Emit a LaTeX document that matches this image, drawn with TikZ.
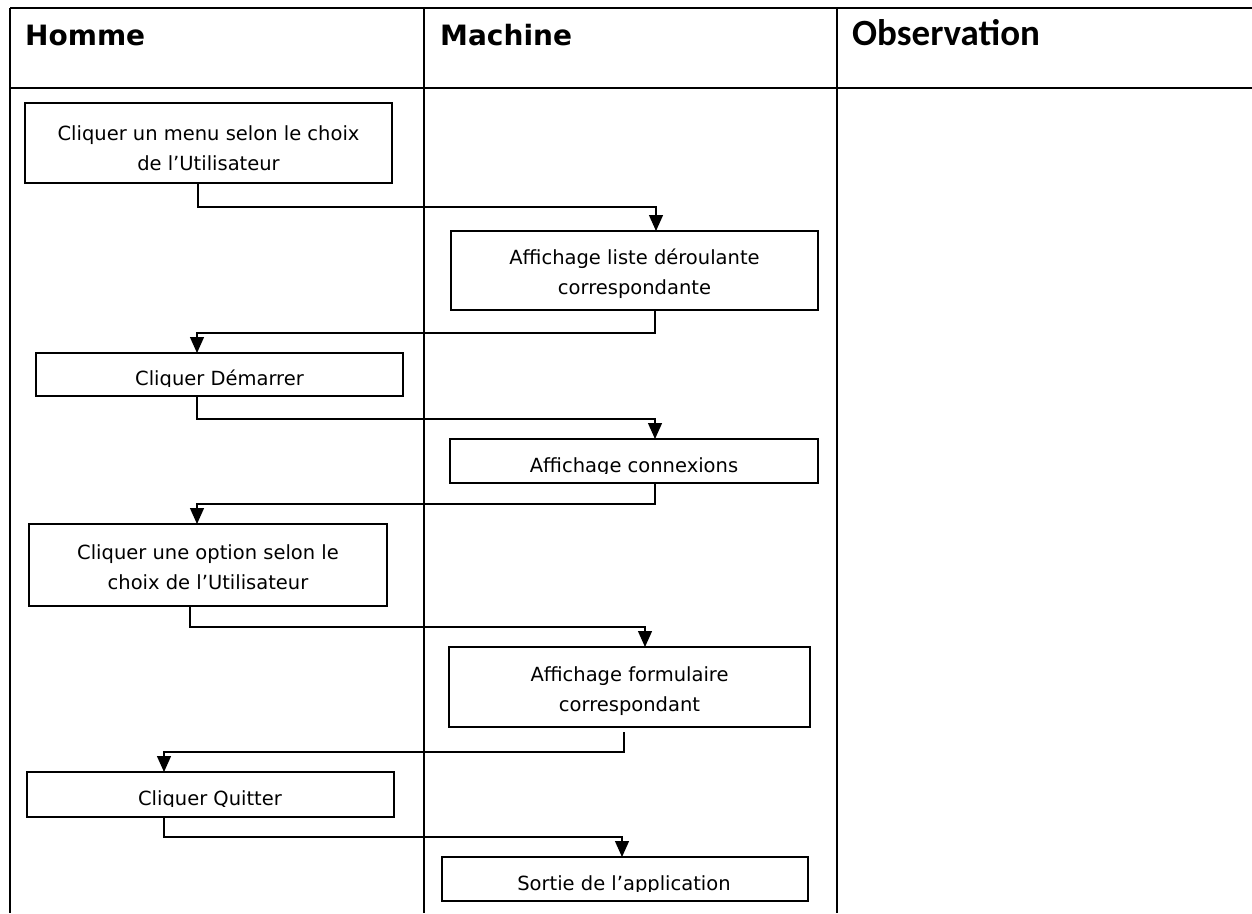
\documentclass[tikz,border=0pt]{standalone}
\usepackage{fontspec}
\setmainfont{DejaVu Sans}
\newfontfamily\obsfont{Carlito}
\usetikzlibrary{arrows.meta}
\begin{document}
\begin{tikzpicture}[x=1pt,y=-1pt,
  gridline/.style={line width=2.4pt},
  flowbox/.style={draw, line width=1.3pt, anchor=north west, inner sep=0pt, outer sep=0pt},
  lbl/.style={font=\fontsize{19.5}{30}\selectfont, align=center, inner sep=0pt, anchor=base},
  hdr/.style={font=\fontsize{28}{30}\selectfont\bfseries, inner sep=0pt, anchor=base west},
  arr/.style={line width=1.3pt, -{Triangle[width=14pt,length=16pt]}}]
\useasboundingbox (0,0) rectangle (1252,913);
\fill[white] (0,0) rectangle (1252,913);

% table
\draw[gridline] (10,8) -- (1252,8);
\draw[gridline] (10,88) -- (1252,88);
\draw[gridline] (10,8) -- (10,913);
\draw[gridline] (424,8) -- (424,913);
\draw[gridline] (837,8) -- (837,913);

\node[hdr] (hh) at (25,45) {Homme};
\node[hdr] (hm) at (440,45) {Machine};
\node[hdr, font=\fontsize{37}{39}\selectfont\obsfont\bfseries] (ho) at (852,45) {Observation};

% boxes
\node[flowbox, minimum width=367pt, minimum height=80pt] (b1) at (25,103) {};
\node[flowbox, minimum width=367pt, minimum height=79pt] (b2) at (451,231) {};
\node[flowbox, minimum width=367pt, minimum height=43pt] (b3) at (36,353) {};
\node[flowbox, minimum width=368pt, minimum height=44pt] (b4) at (450,439) {};
\node[flowbox, minimum width=358pt, minimum height=82pt] (b5) at (29,524) {};
\node[flowbox, minimum width=361pt, minimum height=80pt] (b6) at (449,647) {};
\node[flowbox, minimum width=367pt, minimum height=45pt] (b7) at (27,772) {};
\node[flowbox, minimum width=366pt, minimum height=44pt] (b8) at (442,857) {};

% texts (base anchor = baseline of last line)
\node[lbl] (t1) at (208.5,170) {Cliquer un menu selon le choix\\de l’Utilisateur};
\node[lbl] (t2) at (634.5,294) {Affichage liste déroulante\\correspondante};
\begin{scope}\clip (36,353) rectangle (403,386.5);
\node[lbl] (t3) at (219.5,385) {Cliquer Démarrer};\end{scope}
\begin{scope}\clip (450,439) rectangle (818,473.5);
\node[lbl] (t4) at (634,472) {Affichage connexions};\end{scope}
\node[lbl] (t5) at (208,589) {Cliquer une option selon le\\choix de l’Utilisateur};
\node[lbl] (t6) at (629.5,711) {Affichage formulaire\\correspondant};
\begin{scope}\clip (27,772) rectangle (394,806.5);
\node[lbl] (t7) at (210,805) {Cliquer Quitter};\end{scope}
\begin{scope}\clip (442,857) rectangle (808,891.5);
\node[lbl] (t8) at (624,890) {Sortie de l’application};\end{scope}

% connectors
\draw[arr] ([xshift=-10.5pt]b1.south) -- ++(0,24) -| ([xshift=21.5pt]b2.north);
\draw[arr] ([xshift=20.5pt]b2.south) -- ++(0,23) -| ([xshift=-22.5pt]b3.north);
\draw[arr] ([xshift=-22.5pt]b3.south) -- ++(0,23) -| ([xshift=21pt]b4.north);
\draw[arr] ([xshift=21pt]b4.south) -- ++(0,21) -| ([xshift=-11pt]b5.north);
\draw[arr] ([xshift=-18pt]b5.south) -- ++(0,21) -| ([xshift=15.5pt]b6.north);
\draw[arr] ([xshift=-5.5pt,yshift=-5pt]b6.south) -- ++(0,20) -| ([xshift=-46.5pt]b7.north);
\draw[arr] ([xshift=-46.5pt]b7.south) -- ++(0,20) -| ([xshift=-3pt]b8.north);
\end{tikzpicture}
\end{document}
